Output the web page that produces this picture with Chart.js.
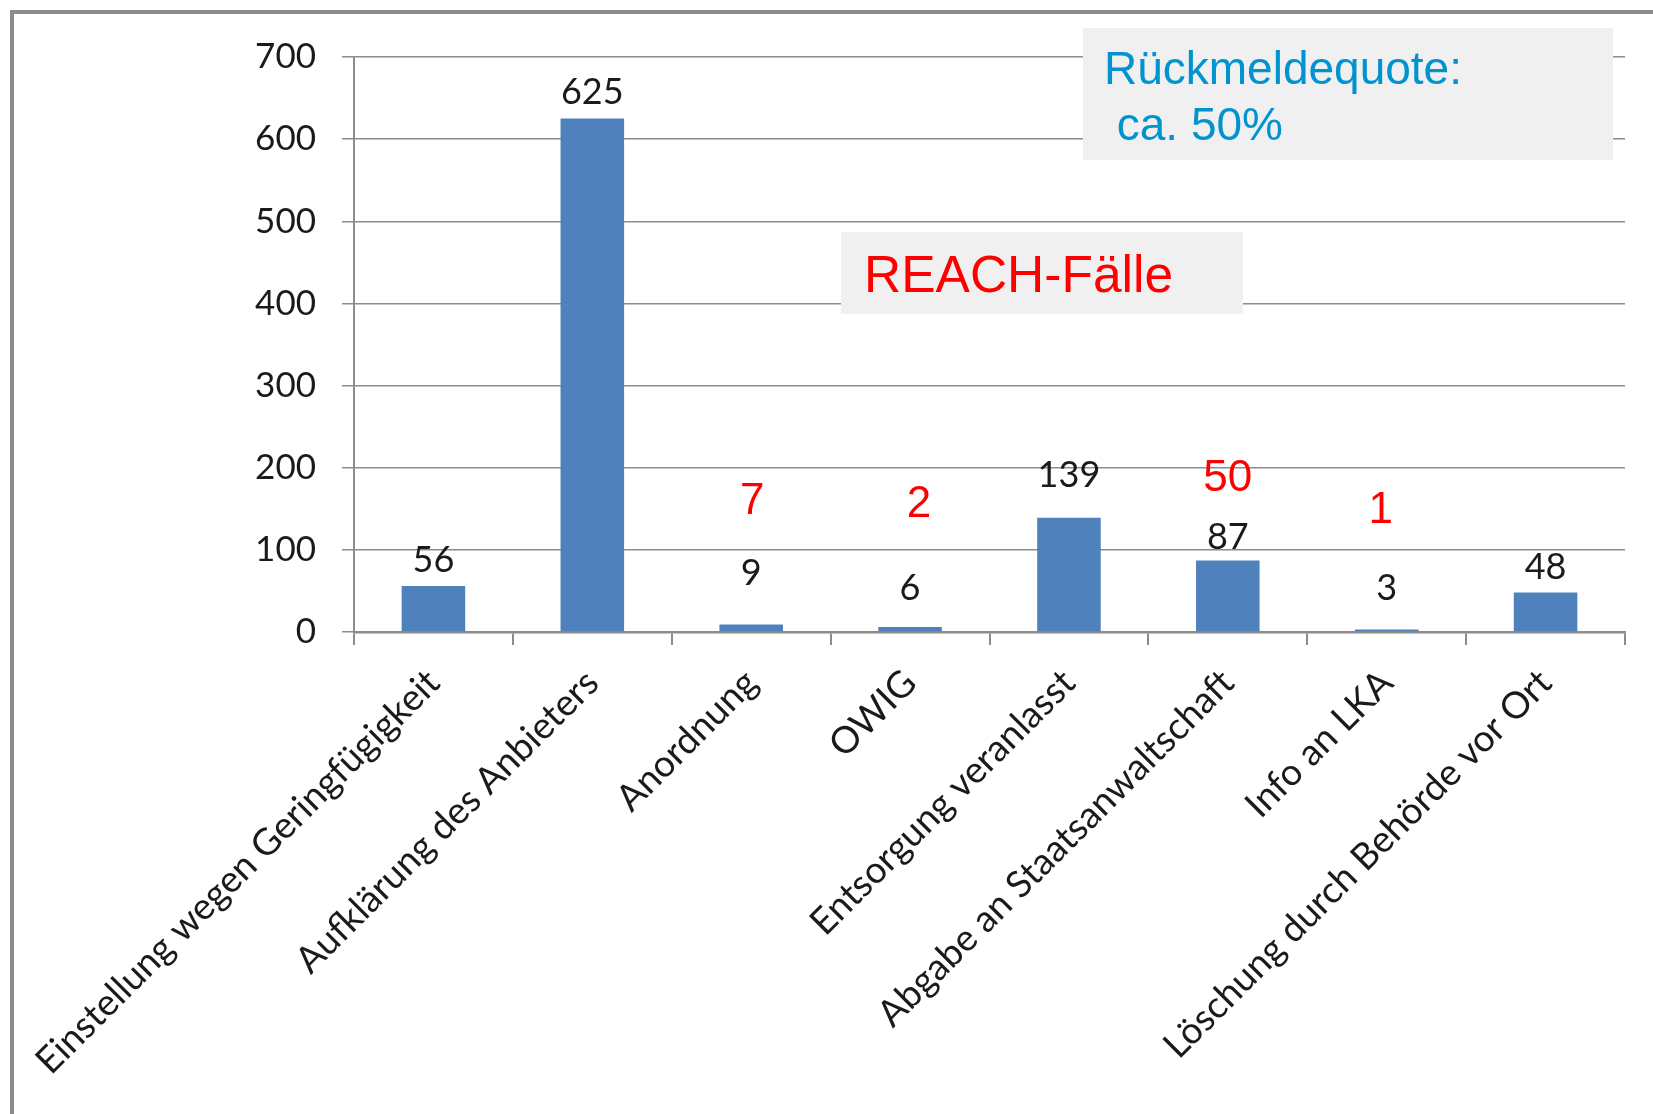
<!DOCTYPE html>
<html>
<head>
<meta charset="utf-8">
<script src="https://cdn.jsdelivr.net/npm/chart.js@4/dist/chart.umd.min.js"></script>
<style>
  html, body { margin: 0; padding: 0; background: #fff; overflow: hidden; }
  #wrap { position: relative; width: 1653px; height: 1114px; }
  #rahmen {
    position: absolute; left: 10px; top: 10px; width: 1700px; height: 1200px;
    border-left: 4px solid #8c8c8c; border-top: 4px solid #8c8c8c;
  }
  canvas { position: absolute; left: 0; top: 0; }
</style>
</head>
<body>
<div id="wrap">
  <div id="rahmen"></div>
  <canvas id="grafik" width="1653" height="1114"></canvas>
</div>
<script>
// Kategorien und Werte
const kategorien = [
  "Einstellung wegen Geringfügigkeit",
  "Aufklärung des Anbieters",
  "Anordnung",
  "OWIG",
  "Entsorgung veranlasst",
  "Abgabe an Staatsanwaltschaft",
  "Info an LKA",
  "Löschung durch Behörde vor Ort"
];
const faelle = [56, 625, 9, 6, 139, 87, 3, 48];
// davon REACH-Fälle (rot)
const reachFaelle = [null, null, 7, 2, null, 50, 1, null];
const yTicks = [0, 100, 200, 300, 400, 500, 600, 700];

const schrift = "Lato, 'Open Sans', sans-serif";

// Beschriftungen über den Balken + rote REACH-Zahlen + Textkästen
const beschriftung = {
  id: "beschriftung",
  afterDatasetsDraw(chart, args, opts) {
    const ctx = chart.ctx;
    const meta = chart.getDatasetMeta(0);
    const y = chart.scales.y;
    ctx.save();
    ctx.textAlign = "center";
    ctx.textBaseline = "middle";
    ctx.fillStyle = "#1a1a1a";
    ctx.font = "36px " + schrift;
    meta.data.forEach((bar, i) => {
      ctx.fillText(String(faelle[i]), bar.x, bar.y - opts.abstand[i]);
    });
    ctx.fillStyle = "#ff0000";
    ctx.font = "44px 'Liberation Sans', Arial, sans-serif";
    meta.data.forEach((bar, i) => {
      if (reachFaelle[i] == null) return;
      ctx.fillText(String(reachFaelle[i]), bar.x + opts.reachVersatz[i], y.getPixelForValue(opts.reachHoehe[i]));
    });

    // Kasten Rückmeldequote
    ctx.textAlign = "left";
    ctx.textBaseline = "alphabetic";
    ctx.fillStyle = "#f0f0f0";
    ctx.fillRect(1083, 28, 530, 132);
    ctx.fillStyle = "#0093d0";
    ctx.font = "46px 'Liberation Sans', Arial, sans-serif";
    ctx.fillText("Rückmeldequote:", 1104, 84);
    ctx.fillText(" ca. 50%", 1104, 140);

    // Kasten REACH-Fälle
    ctx.fillStyle = "#f0f0f0";
    ctx.fillRect(841, 232, 402, 82);
    ctx.fillStyle = "#ff0000";
    ctx.font = "51.5px 'Liberation Sans', Arial, sans-serif";
    ctx.fillText("REACH-Fälle", 864, 292);
    ctx.restore();
  }
};

new Chart(document.getElementById("grafik").getContext("2d"), {
  type: "bar",
  data: {
    labels: kategorien,
    datasets: [{
      data: faelle,
      backgroundColor: "#4f81bd",
      barPercentage: 0.8,
      categoryPercentage: 0.5
    }]
  },
  options: {
    responsive: false,
    animation: false,
    layout: { padding: { top: 57, right: 28, left: 0, bottom: 0 } },
    plugins: {
      legend: { display: false },
      tooltip: { enabled: false },
      beschriftung: {
        abstand: [26, 26, 51, 39, 42, 23, 41, 25],
        reachHoehe: [null, null, 159, 155, null, 186, 147, null],
        reachVersatz: [0, 0, 1, 9, 0, 0, -6, 0]
      }
    },
    scales: {
      x: {
        grid: {
          offset: true,
          drawOnChartArea: false,
          drawTicks: true,
          tickLength: 13,
          color: "#8c8c8c",
          lineWidth: 2
        },
        border: { color: "#8c8c8c", width: 2.5 },
        ticks: {
          minRotation: 45,
          maxRotation: 45,
          autoSkip: false,
          padding: 16,
          color: "#1a1a1a",
          font: { family: schrift, size: 37 }
        },
        afterFit(scale) { scale.height = 482; }
      },
      y: {
        min: 0,
        max: 700,
        afterBuildTicks(scale) { scale.ticks = yTicks.map(v => ({ value: v })); },
        grid: { color: "#8c8c8c", lineWidth: 1.5, tickLength: 12 },
        border: { color: "#8c8c8c", width: 2 },
        ticks: {
          padding: 26,
          color: "#1a1a1a",
          font: { family: schrift, size: 35 }
        },
        afterFit(scale) { scale.width = 354; }
      }
    }
  },
  plugins: [beschriftung]
});
</script>
</body>
</html>
